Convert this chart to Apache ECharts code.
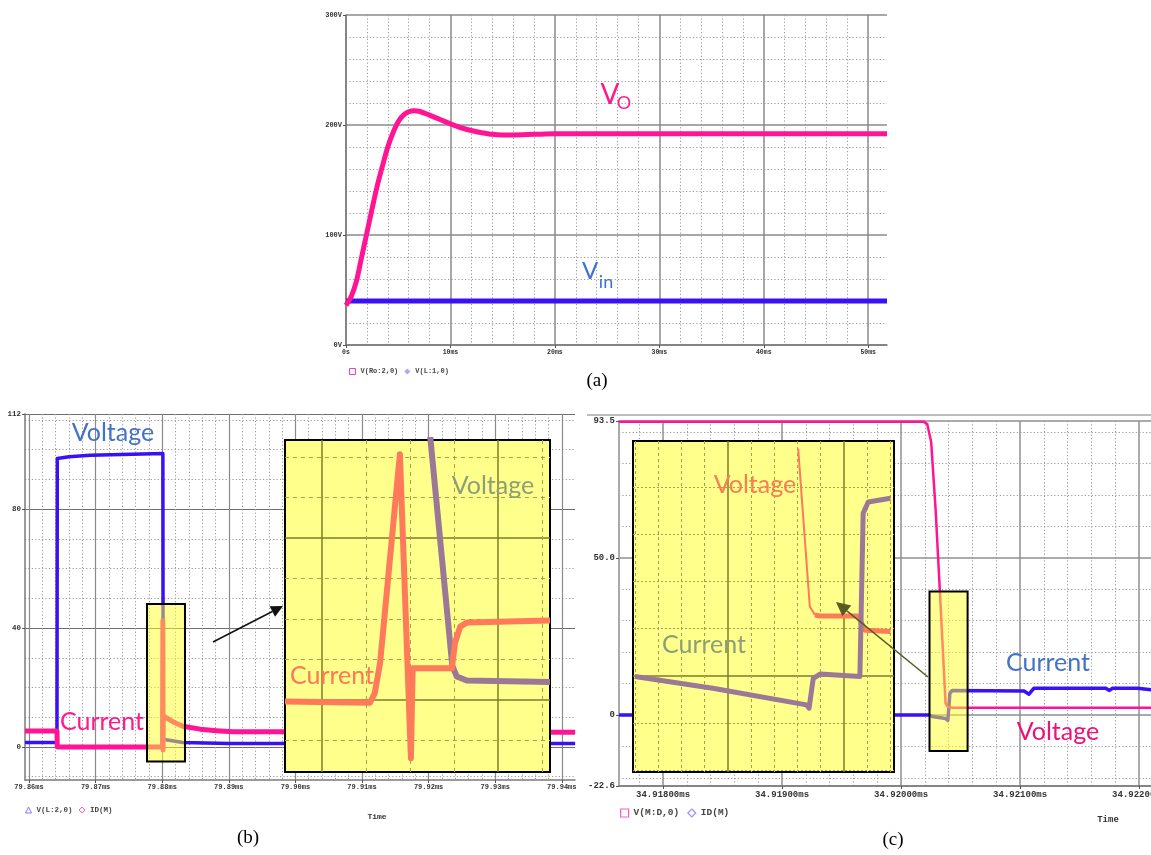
<!DOCTYPE html>
<html><head><meta charset="utf-8">
<script src="https://cdn.jsdelivr.net/npm/echarts@6/dist/echarts.min.js"></script>
<style>html,body{margin:0;padding:0;background:#fff}#c{width:1151px;height:855px}</style>
</head><body><div id="c"></div>
<script>
// ================= DATA =================
// (a) start-up transient, time in ms
const A_TIME = [0,0.5,1,1.5,2,2.5,3,3.5,4,4.5,5,5.5,6,6.5,7,8,9,10,11,12,13,14,15,16,18,20,25,30,35,40,45,50,51.8];
const A_VO   = [36,44,58,80,102,124,145,163,180,193,203,209,212,213,212.5,209,205,201,197.5,195,193,191.5,191,191,191.5,192,192,192,192,192,192,192,192];
const A_VIN_TIME = [0, 51.8];
const A_VIN      = [40, 40];
const A_X_LABELS = [0,10,20,30,40,50];
const A_Y_LABELS = [0,100,200,300];

// (b) switching waveform, time in ms
const B_VOLT_TIME = [79.8594,79.8642,79.86425,79.8660,79.8692,79.8801,79.88015,79.8831,79.8900,79.9420];
const B_VOLT      = [1.5,1.5,97.0,97.6,98.1,98.7,2.6,1.5,1.2,1.2];
const B_CUR_TIME  = [79.8594,79.8642,79.86425,79.88005,79.88010,79.88013,79.88016,79.8804,79.8816,79.8831,79.8857,79.8881,79.8906,79.8981,79.9420];
const B_CUR       = [5.4,5.4,0,0,42.5,-1,10.5,10.2,8.5,7.0,6.0,5.5,5.1,5.1,5.0];
const B_X_LABELS  = [79.86,79.87,79.88,79.89,79.90,79.91,79.92,79.93,79.94];
const B_Y_LABELS  = [0,40,80,112];
const B_ZOOM_BOX  = [79.87772, 79.88342, -4.9, 48.1];   // [t0, t1, vLow, vHigh]
// (b) zoomed inset (grid units)
const BI_CUR_X  = [-0.84,1.09,1.20,1.32,1.77,2.02,2.06,2.95,3.02,3.14,3.29,5.18];
const BI_CUR_Y  = [-0.04,-0.07,0.17,0.91,6.07,-1.44,0.78,0.78,1.40,1.81,1.91,1.96];
const BI_VOLT_X = [2.45,2.96,3.06,3.29,5.18];
const BI_VOLT_Y = [6.6,0.85,0.58,0.48,0.44];

// (c) turn-off waveform, time in ms
const C_VOLT_TIME = [34.91763,34.920189,34.920220,34.920253,34.920290,34.920326,34.920374,34.920393,34.920430,34.922110];
const C_VOLT      = [93.3,93.3,92.5,86.8,65.5,39.4,3.7,2.5,2.3,2.3];
const C_CUR_TIME  = [34.91763,34.920239,34.920262,34.920374,34.920393,34.920410,34.920430,34.921033,34.921075,34.921117,34.921721,34.921748,34.921777,34.921987,34.922110];
const C_CUR       = [0,0,-0.5,-1.1,-1.8,6.9,7.8,7.6,6.6,8.5,8.5,7.8,8.5,8.5,8.0];
const C_X_LABELS  = [34.918,34.919,34.920,34.921,34.922];
const C_Y_LABELS  = [-22.6,0,50,93.5];
const C_ZOOM_BOX  = [34.920239, 34.920559, -11.5, 39.3];
// (c) zoomed inset (grid units)
const CI_CUR_X  = [-4.01,-0.65,3.39,3.50,3.68,3.97,5.69,5.83,6.05,7.01];
const CI_CUR_Y  = [-0.01,-0.26,-0.61,-0.68,-0.05,0.04,-0.01,3.44,3.68,3.76];
const CI_VFALL_X = [3.03,3.53,3.75];
const CI_VFALL_Y = [4.81,1.47,1.29];
const CI_VFLAT_X = [3.75,3.97,5.62,5.91,7.01];
const CI_VFLAT_Y = [1.29,1.27,1.27,0.97,0.94];

// ================= HELPERS =================
const MONO = 'Liberation Mono';
const BLUE = '#3a10f5', PINK = '#ff1493', ORANGE = '#ff7a5a', MAUVE = '#9a7896';
function steps(from, to, step, skipEvery, offset) {
  // grid positions between major lines (integer stepping to avoid float drift)
  const out = [];
  const k0 = Math.round(from / step), k1 = Math.round(to / step);
  for (let k = k0; k <= k1; k++) {
    if (skipEvery && ((k - (offset||0)) % skipEvery + skipEvery) % skipEvery === 0) continue;
    out.push(+(k * step).toFixed(6));
  }
  return out;
}
function majorAxis(g, min, max, pos, ticks, labels, fmt, fs, col, w, extra) {
  return Object.assign({
    type: 'value', gridIndex: g, min, max, position: pos, z: 1,
    axisLine: { show: true, onZero: false, lineStyle: { color: '#7a7a7a', width: 1.5 } },
    axisTick: { show: true, customValues: ticks, length: 3, lineStyle: { color: '#555' } },
    axisLabel: { show: !!labels, customValues: labels || [], formatter: fmt, fontFamily: MONO, fontSize: fs, fontWeight: 'bold', color: '#333', margin: 4 },
    splitLine: { show: true, lineStyle: { color: col, width: w, type: 'solid' } }
  }, extra || {});
}
function minorAxis(g, min, max, pos, ticks, col, dash, extra) {
  return Object.assign({
    type: 'value', gridIndex: g, min, max, position: pos, z: 1,
    axisLine: { show: false, onZero: false },
    axisTick: { show: false, customValues: ticks },
    axisLabel: { show: false },
    splitLine: { show: true, lineStyle: { color: col, width: 1, type: dash } }
  }, extra || {});
}
function line(name, xs, ys, ai, color, width, z, extra) {
  return Object.assign({
    type: 'line', name, xAxisIndex: ai, yAxisIndex: ai,
    data: xs.map((x, i) => [x, ys[i]]),
    symbol: 'none', showSymbol: false, animation: false, silent: true,
    lineStyle: { color, width, join: 'round' }, itemStyle: { color },
    emphasis: { disabled: true }, z
  }, extra || {});
}
function box(ai, region) {
  return {
    type: 'custom', xAxisIndex: ai, yAxisIndex: ai, z: 5, silent: true, animation: false,
    data: [region],
    renderItem: (p, api) => {
      const a = api.coord([api.value(0), api.value(3)]);
      const b = api.coord([api.value(1), api.value(2)]);
      return { type: 'rect', shape: { x: a[0], y: a[1], width: b[0] - a[0], height: b[1] - a[1] },
        style: { fill: 'rgba(255,255,40,0.5)', stroke: '#000', lineWidth: 2 } };
    }
  };
}
function txt(x, y, s, font, fill) {
  return { type: 'text', x, y, z: 100, silent: true,
    style: { text: s, font, fill, align: 'center', verticalAlign: 'middle', textAlign: 'center', textVerticalAlign: 'middle' } };
}
function arrow(x1, y1, x2, y2, color, head, hw) {
  const dx = x2 - x1, dy = y2 - y1, L = Math.hypot(dx, dy), ux = dx / L, uy = dy / L;
  const bx = x2 - ux * head, by = y2 - uy * head;
  return [
    { type: 'line', z: 100, silent: true, shape: { x1, y1, x2: bx, y2: by }, style: { stroke: color, lineWidth: 1.5 } },
    { type: 'polygon', z: 100, silent: true, shape: { points: [[x2, y2], [bx - uy * hw, by + ux * hw], [bx + uy * hw, by - ux * hw]] }, style: { fill: color } }
  ];
}

// ================= AXES =================
const A_XMIN = 0, A_XMAX = 51.8, A_YMIN = 0, A_YMAX = 300;
const B_XMIN = 79.8594, B_XMAX = 79.94198, B_YMIN = -11.1, B_YMAX = 112;
const C_XMIN = 34.91763, C_XMAX = 34.92210, C_YMIN = -22.6, C_YMAX = 93.5;
const BI_X = [-0.84, 5.18], BI_Y = [-1.78, 6.42];
const CI_X = [-4.09, 7.16], CI_Y = [-2.03, 4.97];

const GRID_MAJ = '#8a8a8a', GRID_MIN = '#9a9a9a', DOT = [1.2, 2.2];
const OLIVE_S = '#7d7d2a', OLIVE_D = '#a3a345';

const xAxes = [
  majorAxis(0, A_XMIN, A_XMAX, 'bottom', A_X_LABELS, A_X_LABELS, v => v === 0 ? '0s' : v + 'ms', 6.5, GRID_MAJ, 1.5),
  minorAxis(0, A_XMIN, A_XMAX, 'bottom', steps(0, 50, 2, 5), GRID_MIN, DOT),
  majorAxis(1, B_XMIN, B_XMAX, 'bottom', B_X_LABELS, B_X_LABELS, v => v.toFixed(2) + 'ms', 7, GRID_MAJ, 1.2, { }),
  minorAxis(1, B_XMIN, B_XMAX, 'bottom', steps(79.86, 79.942, 0.002, 5), GRID_MIN, DOT),
  majorAxis(2, BI_X[0], BI_X[1], 'bottom', [0, 4], null, null, 7, OLIVE_S, 1.5, { z: 11, axisLine: { show: false }, axisTick: { show: false, customValues: [0, 4] } }),
  minorAxis(2, BI_X[0], BI_X[1], 'bottom', [1, 2, 3, 5], OLIVE_D, [4, 4], { z: 11 }),
  majorAxis(3, C_XMIN, C_XMAX, 'bottom', C_X_LABELS, C_X_LABELS, v => v.toFixed(5) + 'ms', 9, '#8f8f8f', 1.5),
  minorAxis(3, C_XMIN, C_XMAX, 'bottom', steps(34.9176, 34.9222, 0.0002, 5), GRID_MIN, DOT),
  majorAxis(4, CI_X[0], CI_X[1], 'bottom', [0, 5], null, null, 7, OLIVE_S, 1.5, { z: 11, axisLine: { show: false }, axisTick: { show: false, customValues: [0, 5] } }),
  minorAxis(4, CI_X[0], CI_X[1], 'bottom', [-4, -3, -2, -1, 1, 2, 3, 4, 6, 7], OLIVE_D, [3, 3], { z: 11 })
];
const yAxes = [
  majorAxis(0, A_YMIN, A_YMAX, 'left', A_Y_LABELS, A_Y_LABELS, v => v + 'V', 7, GRID_MAJ, 1.5),
  minorAxis(0, A_YMIN, A_YMAX, 'left', steps(0, 300, 20, 5), GRID_MIN, DOT),
  majorAxis(1, B_YMIN, B_YMAX, 'left', B_Y_LABELS, B_Y_LABELS, v => String(v), 7.5, '#6e6e6e', 1.2),
  minorAxis(1, B_YMIN, B_YMAX, 'left', steps(-10, 110, 10, 4), GRID_MIN, DOT),
  majorAxis(2, BI_Y[0], BI_Y[1], 'left', [0, 4], null, null, 7, OLIVE_S, 1.5, { z: 11, axisLine: { show: false }, axisTick: { show: false, customValues: [0, 4] } }),
  minorAxis(2, BI_Y[0], BI_Y[1], 'left', [-1, 1, 2, 3, 5, 6], OLIVE_D, [4, 4], { z: 11 }),
  majorAxis(3, C_YMIN, C_YMAX, 'left', C_Y_LABELS, C_Y_LABELS, v => v === 0 ? '0' : v.toFixed(1), 9, '#8f8f8f', 1.5, { axisLine: { show: true, onZero: false, lineStyle: { color: '#aaa', width: 2 } } }),
  minorAxis(3, C_YMIN, C_YMAX, 'left', steps(-20, 90, 10, 5), GRID_MIN, DOT),
  majorAxis(4, CI_Y[0], CI_Y[1], 'left', [0], null, null, 7, OLIVE_S, 1.5, { z: 11, axisLine: { show: false }, axisTick: { show: false, customValues: [0] } }),
  minorAxis(4, CI_Y[0], CI_Y[1], 'left', [-2, -1, 1, 2, 3, 4], OLIVE_D, [2, 2], { z: 11 })
];

const gridBase = { containLabel: false, outerBoundsMode: 'none' };
const grids = [
  Object.assign({ left: 346, top: 15, width: 541, height: 330 }, gridBase),
  Object.assign({ left: 25, top: 414, width: 550, height: 366 }, gridBase),
  Object.assign({ left: 285, top: 440, width: 265, height: 332, show: true, backgroundColor: '#ffff8c', borderColor: '#000', borderWidth: 2, z: 10 }, gridBase),
  Object.assign({ left: 619, top: 421, width: 532, height: 365 }, gridBase),
  Object.assign({ left: 633, top: 441, width: 261, height: 331, show: true, backgroundColor: '#ffff8c', borderColor: '#000', borderWidth: 2, z: 10 }, gridBase)
];
// major axes are at even indices: 0 (a), 2 (b), 4 (b inset), 6 (c), 8 (c inset)
const series = [
  line('V(Ro:2,0)', A_TIME, A_VO, 0, PINK, 5, 3, { smooth: 0.3 }),
  line('V(L:1,0)', A_VIN_TIME, A_VIN, 0, BLUE, 5, 2),
  line('V(L:2,0)', B_VOLT_TIME, B_VOLT, 2, BLUE, 3.5, 2),
  line('ID(M)', B_CUR_TIME, B_CUR, 2, PINK, 5, 3),
  box(2, B_ZOOM_BOX),
  line('b inset voltage', BI_VOLT_X, BI_VOLT_Y, 4, MAUVE, 6, 12),
  line('b inset current', BI_CUR_X, BI_CUR_Y, 4, ORANGE, 6, 13),
  line('V(M:D,0)', C_VOLT_TIME, C_VOLT, 6, PINK, 2.5, 3, { clip: false }),
  line('ID(M) ', C_CUR_TIME, C_CUR, 6, BLUE, 3.5, 2),
  box(6, C_ZOOM_BOX),
  line('c inset voltage fall', CI_VFALL_X, CI_VFALL_Y, 8, ORANGE, 2, 12),
  line('c inset voltage', CI_VFLAT_X, CI_VFLAT_Y, 8, ORANGE, 5, 12),
  line('c inset current', CI_CUR_X, CI_CUR_Y, 8, MAUVE, 5, 13)
];
// remap series axis indices to major axes
series.forEach(s => { const m = { 0: 0, 2: 2, 4: 4, 6: 6, 8: 8 }; s.xAxisIndex = m[s.xAxisIndex]; s.yAxisIndex = m[s.yAxisIndex]; });

const legendText = { fontFamily: MONO, fontWeight: 'bold', color: '#444' };
const legends = [
  { left: 344, top: 363, itemWidth: 6, itemHeight: 6, itemGap: 6, selectedMode: false,
    textStyle: Object.assign({ fontSize: 7 }, legendText),
    data: [ { name: 'V(Ro:2,0)', icon: 'rect', itemStyle: { color: '#fff', borderColor: '#ff3fa8', borderWidth: 1 } },
            { name: 'V(L:1,0)', icon: 'diamond', itemStyle: { color: '#b3a2ff', borderWidth: 0 } } ] },
  { left: 20, top: 801, itemWidth: 6, itemHeight: 6, itemGap: 6, selectedMode: false,
    textStyle: Object.assign({ fontSize: 7.5 }, legendText),
    data: [ { name: 'V(L:2,0)', icon: 'triangle', itemStyle: { color: '#fff', borderColor: '#8a78ff', borderWidth: 1 } },
            { name: 'ID(M)', icon: 'diamond', itemStyle: { color: '#fff', borderColor: '#ff5fb8', borderWidth: 1 } } ] },
  { left: 615, top: 803, itemWidth: 8, itemHeight: 8, itemGap: 8, selectedMode: false,
    textStyle: Object.assign({ fontSize: 9.5 }, legendText),
    data: [ { name: 'V(M:D,0)', icon: 'rect', itemStyle: { color: '#fff', borderColor: '#ff5fb8', borderWidth: 1.2 } },
            { name: 'ID(M) ', icon: 'diamond', itemStyle: { color: '#fff', borderColor: '#a08cff', borderWidth: 1.2 } } ] }
];

const LABEL_FONT = '25px Lato';
const graphics = [
  // (a) labels
  txt(610, 95, 'V', '28px Lato', '#ff1a8c'),
  txt(624, 103, 'O', '18px Lato', '#ff1a8c'),
  txt(590, 271, 'V', '24px Lato', '#3f6fd6'),
  txt(606, 282, 'in', '18px Lato', '#3f6fd6'),
  txt(597, 381, '(a)', '19px "Liberation Serif"', '#000'),
  // (b)
  txt(113, 433, 'Voltage', LABEL_FONT, '#4472c4'),
  txt(102, 722, 'Current', LABEL_FONT, '#ff1a8c'),
  txt(493, 486, 'Voltage', LABEL_FONT, '#8e9e78'),
  txt(332, 676, 'Current', LABEL_FONT, '#ff7755'),
  txt(377, 817, 'Time', 'bold 8px "Liberation Mono"', '#333'),
  txt(248, 838, '(b)', '19px "Liberation Serif"', '#000'),
  ...arrow(213, 642, 283, 606, '#111', 12, 6),
  // (c)
  { type: 'line', z: 1, silent: true, shape: { x1: 587, y1: 415, x2: 1151, y2: 415 }, style: { stroke: '#bdbdbd', lineWidth: 2 } },
  txt(1048, 663, 'Current', LABEL_FONT, '#4472c4'),
  txt(1058, 732, 'Voltage', LABEL_FONT, '#ee1177'),
  txt(755, 485, 'Voltage', LABEL_FONT, '#fa7d55'),
  txt(704, 645, 'Current', LABEL_FONT, '#8e9e78'),
  txt(1108, 820, 'Time', 'bold 9px "Liberation Mono"', '#333'),
  txt(893, 840, '(c)', '19px "Liberation Serif"', '#000'),
  ...arrow(928, 677, 836, 602, '#5a5a22', 14, 7)
];

const chart = echarts.init(document.getElementById('c'), null, { renderer: 'canvas' });
chart.setOption({
  backgroundColor: '#fff',
  animation: false,
  grid: grids,
  xAxis: xAxes,
  yAxis: yAxes,
  legend: legends,
  series,
  graphic: { elements: graphics }
});
</script></body></html>
